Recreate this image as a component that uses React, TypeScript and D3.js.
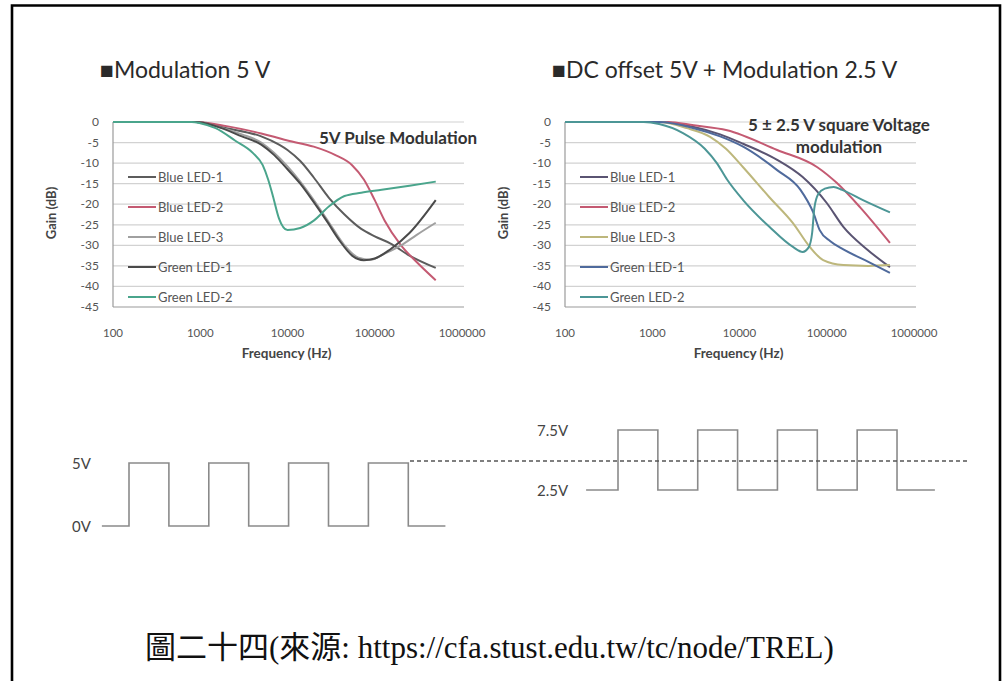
import React from 'react';
import * as d3 from 'd3';

// ---- shared axes ----
const FREQ_TICKS = [100, 1000, 10000, 100000, 1000000];
const GAIN_TICKS = [0, -5, -10, -15, -20, -25, -30, -35, -40, -45];
const LED_NAMES = ['Blue LED-1', 'Blue LED-2', 'Blue LED-3', 'Green LED-1', 'Green LED-2'];

// ---- 5 V pulse modulation: [frequency Hz, gain dB] ----
const PULSE_BLUE1: [number, number][] = [
  [100, 0], [900, 0], [2000, -1.5], [5000, -3.5], [8000, -5.5], [10000, -6.8], [14000, -9.5],
  [20000, -13.5], [30000, -18.5], [45000, -22.5], [70000, -26], [100000, -27.8], [150000, -29.5],
  [250000, -32.5], [500000, -35.5],
];
const PULSE_BLUE2: [number, number][] = [
  [100, 0], [900, 0], [2000, -1], [5000, -2.8], [7000, -3.6], [10000, -4.5], [20000, -6],
  [35000, -8], [55000, -10.5], [75000, -14], [100000, -19], [130000, -24], [200000, -30],
  [300000, -34], [500000, -38.5],
];
const PULSE_BLUE3: [number, number][] = [
  [100, 0], [900, 0], [1500, -1], [3000, -3], [5000, -5], [7000, -7.5], [10000, -10.8],
  [14000, -14.5], [20000, -19], [30000, -24.5], [45000, -30], [65000, -33], [90000, -33.5],
  [130000, -32], [200000, -30], [300000, -27.5], [500000, -24.5],
];
const PULSE_GREEN1: [number, number][] = [
  [100, 0], [900, 0], [1500, -1], [3000, -3.5], [5000, -5.5], [7000, -8], [10000, -11.5],
  [14000, -15], [20000, -19.5], [28000, -24], [40000, -29], [55000, -32.5], [75000, -33.6],
  [100000, -33.2], [150000, -31], [250000, -27], [500000, -19],
];
const PULSE_GREEN2: [number, number][] = [
  [100, 0], [800, 0], [1000, -0.3], [1500, -1.5], [2500, -4.5], [4000, -7.5], [5200, -10.5],
  [6000, -14], [6800, -18], [8000, -23.5], [10000, -26.3], [14000, -25.8], [20000, -24],
  [30000, -20.5], [45000, -18], [70000, -17.2], [120000, -16.5], [250000, -15.5], [500000, -14.5],
];

// ---- DC offset 5 V + 2.5 V modulation: [frequency Hz, gain dB] ----
const OFFSET_BLUE1: [number, number][] = [
  [100, 0], [1200, 0], [3000, -1.2], [6000, -3], [11000, -5.3], [27000, -9.2], [53000, -13.4],
  [100000, -19.7], [155000, -25.5], [290000, -31], [530000, -35.3],
];
const OFFSET_BLUE2: [number, number][] = [
  [100, 0], [1500, 0], [3000, -0.8], [7200, -2], [27000, -6.8], [78000, -11], [130000, -14.8],
  [240000, -20.7], [530000, -29.4],
];
const OFFSET_BLUE3: [number, number][] = [
  [100, 0], [1200, 0], [2500, -1.5], [4600, -3.6], [7000, -6.5], [11000, -11], [22000, -18.3],
  [41000, -24.6], [64000, -30.4], [91000, -33.6], [155000, -34.8], [300000, -35], [530000, -34.8],
];
const OFFSET_GREEN1: [number, number][] = [
  [100, 0], [1200, 0], [3000, -1.5], [6000, -3.5], [11000, -6], [27000, -11.7], [50000, -16.5],
  [70000, -22], [83000, -26.3], [110000, -29], [155000, -31], [300000, -34], [530000, -36.7],
];
const OFFSET_GREEN2: [number, number][] = [
  [100, 0], [800, 0], [1200, -0.5], [2250, -2.7], [4000, -6.5], [5500, -10], [7200, -14],
  [11000, -19], [22000, -25.5], [41000, -30.4], [53000, -31.6], [62000, -30.5], [68000, -27],
  [72000, -21], [80000, -17.5], [95000, -16.2], [120000, -15.8], [150000, -16.5],
  [260000, -19], [530000, -22],
];

const PULSE_SERIES = [PULSE_BLUE1, PULSE_BLUE2, PULSE_BLUE3, PULSE_GREEN1, PULSE_GREEN2];
const OFFSET_SERIES = [OFFSET_BLUE1, OFFSET_BLUE2, OFFSET_BLUE3, OFFSET_GREEN1, OFFSET_GREEN2];
const PULSE_COLORS = ['#5c5c5c', '#c45a72', '#a0a0a0', '#4a4a4a', '#4aa58c'];
const OFFSET_COLORS = ['#5a5472', '#c45a72', '#bdb77c', '#4f6a9c', '#4c9696'];

// ---- square waves: level per half period ----
const PULSE_LEVELS = [0, 5, 0, 5, 0, 5, 0, 5, 0];
const PULSE_LABELS = ['5V', '0V'];
const OFFSET_LEVELS = [2.5, 7.5, 2.5, 7.5, 2.5, 7.5, 2.5, 7.5, 2.5];
const OFFSET_LABELS = ['7.5V', '2.5V'];

const SANS = 'Lato, "Open Sans", sans-serif';

type Pt = [number, number];

function FreqChart(props: {
  x0: number; x1: number; title: string; note: string[]; noteX: number; noteY: number;
  series: Pt[][]; colors: string[];
}) {
  const { x0, x1, title, note, noteX, noteY, series, colors } = props;
  const x = d3.scaleLog().domain([100, 1000000]).range([x0, x1]);
  const y = d3.scaleLinear().domain([0, -45]).range([122, 307]);
  const line = d3.line<Pt>().x((d) => x(d[0])).y((d) => y(d[1])).curve(d3.curveMonotoneX);
  const gridEnd = x1 + 2;
  return (
    <g fontFamily={SANS}>
      <text x={x0 - 13} y={78} fontSize={23} fill="#2a2a2a">{title}</text>
      {GAIN_TICKS.map((t) => (
        <g key={t}>
          <line x1={x0} x2={gridEnd} y1={y(t)} y2={y(t)} stroke={t === -45 ? '#9a9a9a' : '#d2d2d2'} strokeWidth={1.2} />
          <text x={x0 - 14} y={y(t) + 4} fontSize={12} fill="#555" textAnchor="end">{t}</text>
        </g>
      ))}
      <line x1={x0} x2={x0} y1={y(0)} y2={y(-45)} stroke="#9a9a9a" strokeWidth={1.2} />
      {FREQ_TICKS.map((t) => (
        <text key={t} x={x(t)} y={337} fontSize={11.5} fill="#555" textAnchor="middle">{t}</text>
      ))}
      <text x={(x0 + x1) / 2 - 1} y={358} fontSize={13.5} fontWeight="bold" fill="#444" textAnchor="middle">Frequency (Hz)</text>
      <text transform={`translate(${x0 - 57},213) rotate(-90)`} fontSize={13} fontWeight="bold" fill="#444" textAnchor="middle">Gain (dB)</text>
      {LED_NAMES.map((name, i) => (
        <g key={name}>
          <line x1={x0 + 15} x2={x0 + 43} y1={177 + i * 30} y2={177 + i * 30} stroke={colors[i]} strokeWidth={2} />
          <text x={x0 + 45} y={181.5 + i * 30} fontSize={13} fill="#555">{name}</text>
        </g>
      ))}
      {series.map((s, i) => (
        <path key={i} d={line(s) || ''} fill="none" stroke={colors[i]} strokeWidth={2} />
      ))}
      {note.map((n, i) => (
        <text key={n} x={noteX} y={noteY + i * 22} fontSize={17} fontWeight="bold" fill="#333" textAnchor="middle">{n}</text>
      ))}
    </g>
  );
}

function SquareWave(props: {
  levels: number[]; domainY: [number, number]; rangeY: [number, number]; edge0: number; period: number;
  lead: number; tail: number; labels: string[]; labelX: number;
}) {
  const { levels, domainY, rangeY, edge0, period, lead, tail, labels, labelX } = props;
  const n = levels.length;
  const x = d3.scaleLinear().domain([0, 1]).range([edge0, edge0 + period]);
  const y = d3.scaleLinear().domain(domainY).range(rangeY);
  const pts: Pt[] = [];
  levels.forEach((lv, i) => {
    const start = i === 0 ? -lead : i - 1;
    const end = i === n - 1 ? n - 2 + tail : i;
    pts.push([x(start), y(lv)], [x(end), y(lv)]);
  });
  const path = d3.line<Pt>()(pts) || '';
  return (
    <g fontFamily={SANS}>
      <path d={path} fill="none" stroke="#8a8a8a" strokeWidth={1.6} />
      <text x={labelX} y={y(domainY[1]) + 6} fontSize={15} fill="#444">{labels[0]}</text>
      <text x={labelX} y={y(domainY[0]) + 6} fontSize={15} fill="#444">{labels[1]}</text>
    </g>
  );
}

export default function App() {
  const midY = d3.scaleLinear().domain([2.5, 7.5]).range([490, 430]);
  return (
    <svg width={1008} height={681} style={{ position: 'absolute', left: 0, top: 0, background: '#fff' }}>
      <rect width={1008} height={681} fill="#fff" />
      <path d="M12,690 V5.5 H1000 V690" fill="none" stroke="#000" strokeWidth={2.6} />
      <FreqChart
        x0={113} x1={462} title="■Modulation 5 V" note={['5V Pulse Modulation']} noteX={398} noteY={144}
        series={PULSE_SERIES} colors={PULSE_COLORS}
      />
      <FreqChart
        x0={565} x1={914} title="■DC offset 5V + Modulation 2.5 V"
        note={['5 ± 2.5 V square Voltage', 'modulation']} noteX={839} noteY={131}
        series={OFFSET_SERIES} colors={OFFSET_COLORS}
      />
      <SquareWave
        levels={PULSE_LEVELS} domainY={[0, 5]} rangeY={[526, 463]} edge0={129} period={39.9}
        lead={0.68} tail={0.93} labels={PULSE_LABELS} labelX={72}
      />
      <SquareWave
        levels={OFFSET_LEVELS} domainY={[2.5, 7.5]} rangeY={[490, 430]} edge0={618} period={39.86}
        lead={0.8} tail={0.95} labels={OFFSET_LABELS} labelX={537}
      />
      <line x1={410} x2={968} y1={midY(5) + 1} y2={midY(5) + 1} stroke="#555" strokeWidth={1.3} strokeDasharray="4 3" />
      <text x={145} y={658} fontSize={31} fill="#111" fontFamily='"Liberation Serif", "Noto Sans CJK TC", serif'>
        圖二十四(來源: https://cfa.stust.edu.tw/tc/node/TREL)
      </text>
    </svg>
  );
}
